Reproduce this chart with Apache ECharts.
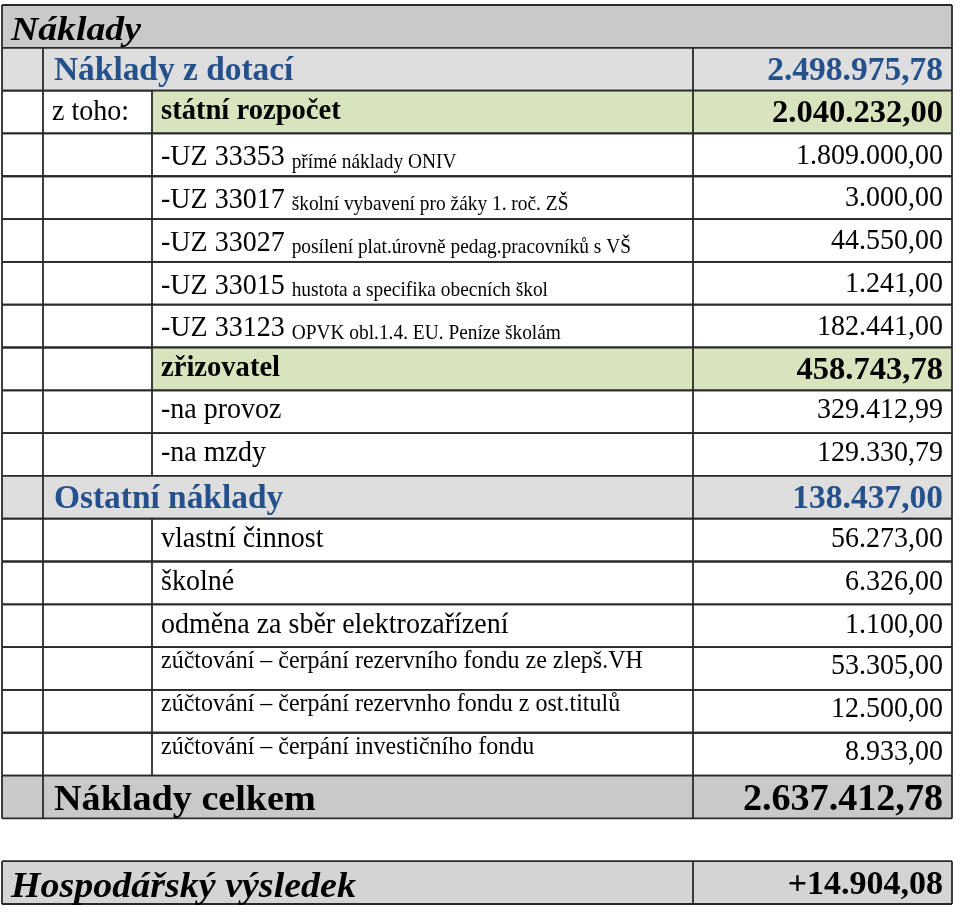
<!DOCTYPE html>
<html>
<head>
<meta charset="utf-8">
<title>Náklady</title>
<script src="https://cdn.jsdelivr.net/npm/echarts@6/dist/echarts.min.js"></script>
<style>
  html, body { margin: 0; padding: 0; background: #fff; }
  #chart { width: 960px; height: 913px; }
</style>
</head>
<body>
<div id="chart"></div>
<script>
// table rows, top to bottom
const rowKinds = [
  'title', 'section', 'green', 'uz', 'uz', 'uz', 'uz', 'uz', 'green', 'item', 'item',
  'section', 'item', 'item', 'item', 'small', 'small', 'small', 'total', 'gap', 'result',
]
const rowLabels = [
  'Náklady', 'Náklady z dotací', 'státní rozpočet',
  '-UZ 33353', '-UZ 33017', '-UZ 33027', '-UZ 33015', '-UZ 33123',
  'zřizovatel', '-na provoz', '-na mzdy',
  'Ostatní náklady', 'vlastní činnost', 'školné', 'odměna za sběr elektrozařízení',
  'zúčtování – čerpání rezervního fondu ze zlepš.VH',
  'zúčtování – čerpání rezervnho fondu z ost.titulů',
  'zúčtování – čerpání investičního fondu',
  'Náklady celkem', '', 'Hospodářský výsledek',
]
const rowLeads = ['', '', 'z toho:', '', '', '', '', '', '', '', '', '', '', '', '', '', '', '', '', '', '']
const rowNotes = [
  '', '', '',
  'přímé náklady ONIV', 'školní vybavení pro žáky 1. roč. ZŠ',
  'posílení plat.úrovně pedag.pracovníků s VŠ', 'hustota a specifika obecních škol',
  'OPVK obl.1.4. EU. Peníze školám',
  '', '', '', '', '', '', '', '', '', '', '', '', '',
]
const rowAmounts = [
  null, 2498975.78, 2040232.00,
  1809000.00, 3000.00, 44550.00, 1241.00, 182441.00,
  458743.78, 329412.99, 129330.79,
  138437.00, 56273.00, 6326.00, 1100.00, 53305.00, 12500.00, 8933.00,
  2637412.78, null, 14904.08,
]

const FONT = '"Liberation Serif", "Times New Roman", serif'
const LINE = '#2a2a2a'
const BLUE = '#24508c'
const GRAY_DARK = '#c9c9c9'
const GRAY_LIGHT = '#dedede'
const GRAY_RESULT = '#d4d4d4'
const GREEN = '#d7e4bd'

// column edges, px from the grid's left edge
const COLS = [0, 41, 150, 691, 950]

function fmtAmount(v, signed) {
  const [int, dec] = Math.abs(v).toFixed(2).split('.')
  const grouped = int.replace(/\B(?=(\d{3})+(?!\d))/g, '.')
  const sign = v < 0 ? '-' : (signed ? '+' : '')
  return sign + grouped + ',' + dec
}

// text anchored at (x, y); sx / sy stretch it around that point
function txt(x, y, text, opts) {
  const { sx = 1, sy = 1, ...style } = opts || {}
  return {
    type: 'text',
    x, y,
    scaleX: sx,
    scaleY: sy,
    style: Object.assign({
      x: 0, y: 0, text,
      fill: '#000',
      fontFamily: FONT,
      fontSize: 28,
      fontWeight: 'normal',
      align: 'left',
      verticalAlign: 'middle',
    }, style),
  }
}

function line(x1, y1, x2, y2) {
  return {
    type: 'line',
    shape: { x1, y1, x2, y2 },
    style: { stroke: LINE, lineWidth: 1.8 },
  }
}

function renderRow(params, api) {
  const idx = api.value(1)
  const kind = rowKinds[idx]
  if (kind === 'gap') return null

  const band = api.size([0, 1])[1]
  const mid = api.coord([0, idx])[1]
  const top = mid - band / 2
  const bottom = mid + band / 2
  const x = v => api.coord([v, idx])[0]
  const left = x(COLS[0])
  const right = x(COLS[4])
  const children = []

  // backgrounds
  const fills = { title: GRAY_DARK, section: GRAY_LIGHT, total: GRAY_DARK, result: GRAY_RESULT }
  if (fills[kind]) {
    children.push({ type: 'rect', shape: { x: left, y: top, width: right - left, height: band }, style: { fill: fills[kind] } })
  } else if (kind === 'green') {
    children.push({ type: 'rect', shape: { x: x(COLS[2]), y: top, width: right - x(COLS[2]), height: band }, style: { fill: GREEN } })
  }

  // borders
  children.push(line(left, top, right, top), line(left, bottom, right, bottom))
  children.push(line(left, top, left, bottom), line(right, top, right, bottom))
  let dividers = [1, 2, 3]
  if (kind === 'title') dividers = []
  else if (kind === 'section' || kind === 'total') dividers = [1, 3]
  else if (kind === 'result') dividers = [3]
  dividers.forEach(d => children.push(line(x(COLS[d]), top, x(COLS[d]), bottom)))

  // texts
  const label = rowLabels[idx]
  const colB = x(COLS[1]) + 11
  const colC = x(COLS[2]) + 9
  const valX = right - 9
  let ty = mid - 1
  let valStyle = { align: 'right', sy: 1.06 }

  if (kind === 'title') {
    children.push(txt(left + 9, mid + 5, label, { fontSize: 34, fontWeight: 'bold', fontStyle: 'italic', sx: 1.11 }))
  } else if (kind === 'result') {
    children.push(txt(left + 9, mid + 5, label, { fontSize: 35, fontWeight: 'bold', fontStyle: 'italic', sx: 1.085 }))
    valStyle = { align: 'right', fontSize: 34, fontWeight: 'bold' }
    ty = mid + 3
  } else if (kind === 'section') {
    ty = mid + 2.5
    children.push(txt(colB, ty, label, { fontSize: 33.4, fontWeight: 'bold', fill: BLUE }))
    valStyle = { align: 'right', fontSize: 33.5, fontWeight: 'bold', fill: BLUE }
  } else if (kind === 'total') {
    ty = mid + 3.5
    children.push(txt(colB, ty, label, { fontSize: 36, fontWeight: 'bold', sx: 1.06 }))
    valStyle = { align: 'right', fontSize: 37, fontWeight: 'bold', sx: 1.03 }
  } else if (kind === 'green') {
    ty = mid + 2
    if (rowLeads[idx]) children.push(txt(colB - 2, mid, rowLeads[idx], { sy: 1.06 }))
    children.push(txt(colC, mid, label, { fontSize: 28.6, fontWeight: 'bold' }))
    valStyle = { align: 'right', fontSize: 32.6, fontWeight: 'bold' }
  } else if (kind === 'uz') {
    ty = mid + 1
    children.push(txt(colC, mid + 2.5, '{a|' + label + ' }{b|' + rowNotes[idx] + '}', {
      sy: 1.06,
      rich: {
        a: { fontFamily: FONT, fontSize: 28, lineHeight: 28, verticalAlign: 'bottom' },
        b: { fontFamily: FONT, fontSize: 19.4, lineHeight: 23, verticalAlign: 'bottom' },
      },
    }))
  } else if (kind === 'small') {
    children.push(txt(colC, mid - 7, label, { fontSize: 24, sy: 1.06 }))
    ty = mid - 2
  } else {
    children.push(txt(colC, ty, label, { sy: 1.06 }))
  }

  if (rowAmounts[idx] != null) {
    children.push(txt(valX, ty, fmtAmount(rowAmounts[idx], kind === 'result'), valStyle))
  }

  return { type: 'group', children }
}

const chart = echarts.init(document.getElementById('chart'))
chart.setOption({
  animation: false,
  grid: { left: 2, right: 8, top: 5, bottom: 9 },
  xAxis: { type: 'value', min: 0, max: COLS[4], show: false },
  yAxis: {
    type: 'category',
    data: rowLabels.map((_, i) => String(i)),
    inverse: true,
    show: false,
  },
  series: [{
    type: 'custom',
    silent: true,
    clip: false,
    encode: { x: 0, y: 1 },
    data: rowKinds.map((_, i) => [0, i]),
    renderItem: renderRow,
  }],
})
</script>
</body>
</html>
